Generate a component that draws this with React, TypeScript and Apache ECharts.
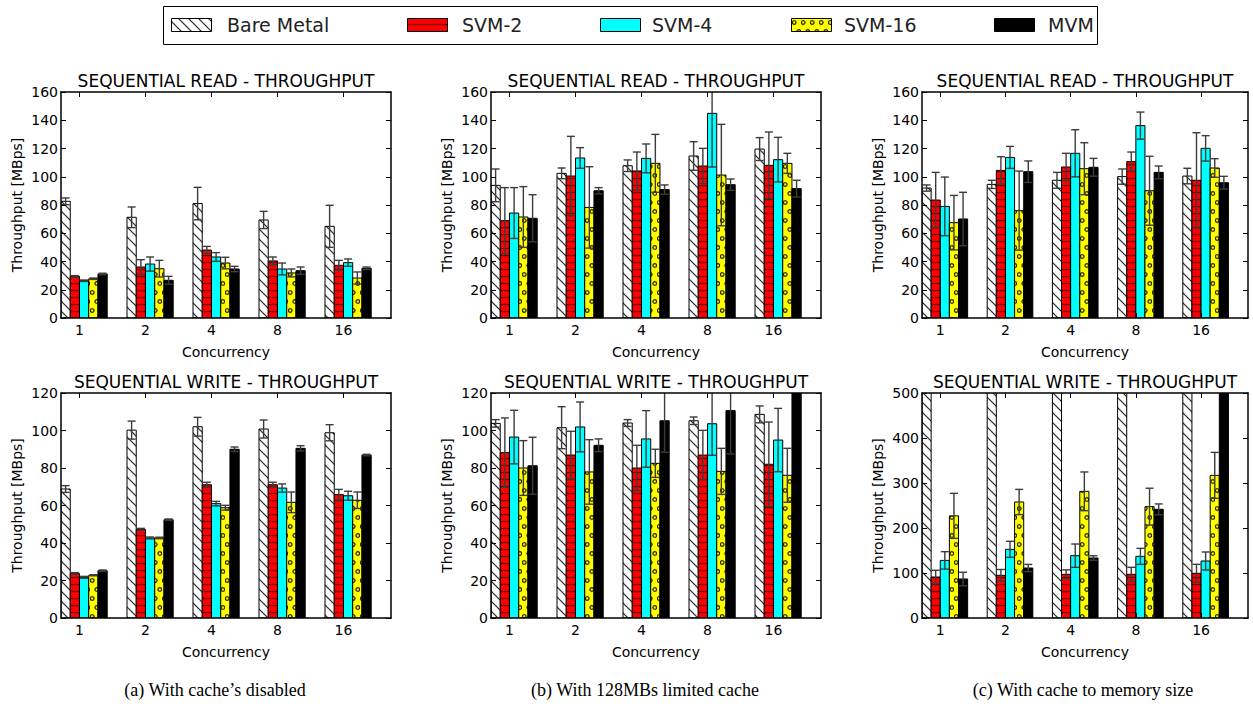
import React, { useEffect, useRef } from 'react';
import * as echarts from 'echarts';

const CATEGORIES = ['1', '2', '4', '8', '16'];
const SERIES_NAMES = ['Bare Metal', 'SVM-2', 'SVM-4', 'SVM-16', 'MVM'];

// rows: Bare Metal, SVM-2, SVM-4, SVM-16, MVM ; columns: concurrency 1,2,4,8,16
const READ_A_MEAN = [
  [82.6, 71.3, 81.0, 69.4, 64.9],
  [29.5, 36.1, 48.1, 40.4, 37.3],
  [26.4, 38.2, 43.2, 34.7, 39.2],
  [27.8, 34.9, 38.9, 31.9, 28.3],
  [31.2, 26.7, 34.7, 33.5, 35.2],
];
const READ_A_ERR = [
  [2.4, 7.3, 11.5, 6.1, 14.9],
  [0.5, 5.2, 2.6, 2.8, 3.5],
  [0.5, 5.0, 3.1, 4.2, 2.6],
  [0.5, 5.9, 4.1, 2.8, 4.3],
  [0.5, 2.8, 1.9, 2.6, 0.9],
];
const READ_B_MEAN = [
  [93.9, 102.4, 107.8, 114.7, 119.6],
  [68.9, 100.5, 104.1, 107.6, 108.1],
  [74.3, 113.3, 113.0, 144.9, 112.1],
  [71.5, 78.3, 109.5, 101.2, 109.5],
  [70.6, 90.1, 90.9, 94.4, 91.6],
];
const READ_B_ERR = [
  [11.6, 3.8, 4.1, 10.1, 8.1],
  [23.4, 28.1, 13.4, 12.5, 23.6],
  [18.0, 7.3, 10.2, 38.0, 15.8],
  [21.5, 28.8, 20.5, 35.9, 7.1],
  [16.7, 2.2, 3.3, 4.0, 5.9],
];
const READ_C_MEAN = [
  [92.0, 94.6, 97.5, 100.1, 100.5],
  [83.5, 104.5, 106.9, 110.7, 97.5],
  [79.0, 113.7, 116.6, 136.2, 120.1],
  [67.5, 76.0, 105.7, 90.1, 106.2],
  [70.1, 103.6, 106.7, 103.1, 95.8],
];
const READ_C_ERR = [
  [2.2, 2.9, 5.6, 5.4, 5.5],
  [19.6, 9.7, 9.7, 6.8, 33.7],
  [20.8, 7.8, 16.7, 9.6, 9.0],
  [19.3, 28.0, 18.4, 24.4, 6.6],
  [18.9, 7.6, 6.3, 4.5, 4.5],
];
const WRITE_A_MEAN = [
  [68.8, 100.2, 102.0, 100.8, 98.8],
  [23.8, 47.3, 71.1, 71.1, 65.8],
  [21.7, 42.7, 61.0, 69.3, 65.2],
  [22.8, 42.7, 58.8, 61.7, 62.8],
  [25.2, 52.4, 90.0, 90.5, 86.9],
];
const WRITE_A_ERR = [
  [1.8, 4.8, 5.0, 4.8, 4.3],
  [0.4, 0.5, 1.3, 1.3, 2.8],
  [0.5, 0.5, 1.2, 2.2, 2.4],
  [0.3, 0.4, 1.3, 5.5, 4.4],
  [0.4, 0.4, 1.2, 1.4, 0.4],
];
const WRITE_B_MEAN = [
  [103.8, 101.5, 104.0, 105.2, 108.6],
  [88.2, 86.9, 80.0, 86.9, 82.0],
  [96.5, 101.9, 95.5, 103.6, 94.9],
  [80.0, 77.9, 82.5, 78.2, 76.1],
  [81.2, 92.1, 105.2, 110.6, 130.0],
];
const WRITE_B_ERR = [
  [2.0, 11.2, 1.8, 2.0, 4.5],
  [18.5, 12.7, 12.1, 13.2, 22.5],
  [14.3, 13.3, 15.1, 16.8, 16.9],
  [14.6, 17.2, 7.5, 12.3, 14.4],
  [15.2, 3.4, 16.8, 23.1, 8.0],
];
const WRITE_C_MEAN = [
  [1400, 1500, 1450, 1500, 1550],
  [91.1, 94.8, 97.0, 97.0, 99.3],
  [128.0, 152.6, 138.5, 137.0, 126.7],
  [227.0, 257.8, 281.5, 247.4, 317.0],
  [86.7, 111.1, 133.3, 241.5, 600.0],
];
const WRITE_C_ERR = [
  [50, 50, 50, 50, 50],
  [15.0, 13.0, 10.0, 15.6, 20.0],
  [19.4, 17.8, 25.9, 17.8, 20.0],
  [50.0, 28.0, 43.0, 41.0, 51.0],
  [15.0, 8.0, 5.0, 12.0, 30.0],
];

const READ_TITLE = 'SEQUENTIAL READ - THROUGHPUT';
const WRITE_TITLE = 'SEQUENTIAL WRITE - THROUGHPUT';
const CAPTIONS = ['(a) With cache’s disabled', '(b) With 128MBs limited cache', '(c) With cache to memory size'];

const BAR_W = 0.14;
const FONT = 'DejaVu Sans';

const PANELS = [
  { title: READ_TITLE, mean: READ_A_MEAN, err: READ_A_ERR, yMax: 160, yStep: 20, left: 61, top: 92, width: 330, height: 226 },
  { title: READ_TITLE, mean: READ_B_MEAN, err: READ_B_ERR, yMax: 160, yStep: 20, left: 491, top: 92, width: 330, height: 226 },
  { title: READ_TITLE, mean: READ_C_MEAN, err: READ_C_ERR, yMax: 160, yStep: 20, left: 922, top: 92, width: 326, height: 226 },
  { title: WRITE_TITLE, mean: WRITE_A_MEAN, err: WRITE_A_ERR, yMax: 120, yStep: 20, left: 61, top: 393, width: 330, height: 225 },
  { title: WRITE_TITLE, mean: WRITE_B_MEAN, err: WRITE_B_ERR, yMax: 120, yStep: 20, left: 491, top: 393, width: 330, height: 225 },
  { title: WRITE_TITLE, mean: WRITE_C_MEAN, err: WRITE_C_ERR, yMax: 500, yStep: 100, left: 922, top: 393, width: 326, height: 225 },
];

function tile(w: number, h: number, draw: (ctx: CanvasRenderingContext2D) => void) {
  const s = 3;
  const c = document.createElement('canvas');
  c.width = w * s;
  c.height = h * s;
  const ctx = c.getContext('2d') as CanvasRenderingContext2D;
  ctx.scale(s, s);
  draw(ctx);
  return { image: c.toDataURL(), repeat: 'repeat', imageWidth: w, imageHeight: h };
}

function buildPatterns(): any[] {
  const hatch = tile(10, 10, (ctx) => {
    ctx.fillStyle = '#ffffff';
    ctx.fillRect(0, 0, 10, 10);
    ctx.strokeStyle = '#000';
    ctx.lineWidth = 1;
    ctx.beginPath();
    ctx.moveTo(-1, -1); ctx.lineTo(11, 11);
    ctx.moveTo(9, -1); ctx.lineTo(11, 1);
    ctx.moveTo(-1, 9); ctx.lineTo(1, 11);
    ctx.stroke();
  });
  const red = tile(8, 7, (ctx) => {
    ctx.fillStyle = '#ff0000';
    ctx.fillRect(0, 0, 8, 7);
    ctx.fillStyle = 'rgba(60,0,0,0.95)';
    ctx.fillRect(0, 3, 8, 1.1);
  });
  const dots = tile(9, 18, (ctx) => {
    ctx.fillStyle = '#ffff00';
    ctx.fillRect(0, 0, 9, 18);
    ctx.strokeStyle = '#000';
    ctx.lineWidth = 1.1;
    const pts = [[2.25, 4.5], [6.75, 13.5]];
    pts.forEach(([x, y]) => {
      ctx.beginPath();
      ctx.arc(x, y, 1.8, 0, Math.PI * 2);
      ctx.stroke();
    });
  });
  return [hatch, red, '#00ffff', dots, '#000000'];
}

function buildOption(fills: any[]) {
  const ticks = CATEGORIES.map((_, i) => i + 2 * BAR_W);
  const labelStyle = { color: '#000', fontFamily: FONT, fontSize: 14 };
  const lineStyle = { color: '#000', width: 1.5 };
  const grid: any[] = [];
  const xAxis: any[] = [];
  const yAxis: any[] = [];
  const series: any[] = [];
  const graphic: any[] = [];

  PANELS.forEach((p, pi) => {
    grid.push({ left: p.left, top: p.top, width: p.width, height: p.height, containLabel: false, outerBoundsMode: 'none' });
    const xBase = {
      type: 'value', gridIndex: pi, min: 0, max: CATEGORIES.length, z: 10,
      splitLine: { show: false },
      axisLine: { show: true, onZero: false, lineStyle },
      axisTick: { show: true, inside: true, length: 5, customValues: ticks, lineStyle: { color: '#000', width: 1 } },
    };
    xAxis.push({
      ...xBase, position: 'bottom',
      axisLabel: { ...labelStyle, margin: 5, customValues: ticks, formatter: (v: number) => CATEGORIES[Math.round(v - 2 * BAR_W)] ?? '' },
      name: 'Concurrency', nameLocation: 'middle', nameGap: 27, nameTextStyle: { ...labelStyle },
    });
    xAxis.push({ ...xBase, position: 'top', axisLabel: { show: false } });
    const yBase = {
      type: 'value', gridIndex: pi, min: 0, max: p.yMax, interval: p.yStep, z: 10,
      splitLine: { show: false },
      axisLine: { show: true, onZero: false, lineStyle },
      axisTick: { show: true, inside: true, length: 5, lineStyle: { color: '#000', width: 1 } },
    };
    yAxis.push({
      ...yBase, position: 'left',
      axisLabel: { ...labelStyle, margin: 3 },
      name: 'Throughput [MBps]', nameLocation: 'middle', nameGap: 37, nameRotate: 90, nameTextStyle: { ...labelStyle },
    });
    yAxis.push({ ...yBase, position: 'right', axisLabel: { show: false } });

    SERIES_NAMES.forEach((name, k) => {
      const data = CATEGORIES.map((_, i) => [i, p.mean[k][i], p.err[k][i]]);
      series.push({
        type: 'custom', name, xAxisIndex: pi * 2, yAxisIndex: pi * 2, clip: true, z: 2 + k * 0.01,
        encode: { x: 0, y: 1 },
        data,
        renderItem: (params: any, api: any) => {
          const g = api.value(0);
          const v = api.value(1);
          const e = api.value(2);
          const x0 = g + k * BAR_W;
          const x1 = x0 + BAR_W;
          const pTop = api.coord([x0, v]);
          const pBot = api.coord([x1, 0]);
          const cx = (pTop[0] + pBot[0]) / 2;
          const yHi = api.coord([x0, v + e])[1];
          const yLo = api.coord([x0, Math.max(0, v - e)])[1];
          const ec = '#3c3c3c';
          return {
            type: 'group',
            children: [
              {
                type: 'rect',
                shape: { x: pTop[0], y: pTop[1], width: pBot[0] - pTop[0], height: pBot[1] - pTop[1] },
                style: { fill: fills[k], stroke: '#000', lineWidth: 1 },
              },
              { type: 'line', shape: { x1: cx, y1: yHi, x2: cx, y2: yLo }, style: { stroke: ec, lineWidth: 1.4 } },
              { type: 'line', shape: { x1: cx - 4, y1: yHi, x2: cx + 4, y2: yHi }, style: { stroke: ec, lineWidth: 1.4 } },
              { type: 'line', shape: { x1: cx - 4, y1: yLo, x2: cx + 4, y2: yLo }, style: { stroke: ec, lineWidth: 1.4 } },
            ],
          };
        },
      });
    });

    graphic.push({
      type: 'text', x: p.left + p.width / 2, y: p.top - 11.5,
      style: { text: p.title, fill: '#000', fontSize: 17, fontFamily: FONT, align: 'center', textAlign: 'center', verticalAlign: 'middle', textVerticalAlign: 'middle' },
    });
  });

  // captions
  const capX = [215, 645, 1083];
  CAPTIONS.forEach((c, i) => {
    graphic.push({
      type: 'text', x: capX[i], y: 690,
      style: { text: c, fill: '#000', fontSize: 18, fontFamily: 'Liberation Serif', align: 'center', textAlign: 'center', verticalAlign: 'middle', textVerticalAlign: 'middle' },
    });
  });

  // legend
  graphic.push({ type: 'rect', shape: { x: 163.5, y: 6.5, width: 934, height: 38 }, style: { fill: '#fff', stroke: '#000', lineWidth: 1 }, z: 1 });
  const patchX = [171, 407, 600, 791, 994];
  const textX = [227, 462, 652, 844, 1048];
  SERIES_NAMES.forEach((n, k) => {
    graphic.push({ type: 'rect', shape: { x: patchX[k] + 0.5, y: 18.5, width: 40, height: 13 }, style: { fill: fills[k], stroke: '#000', lineWidth: 1 }, z: 2 });
    graphic.push({
      type: 'text', x: textX[k], y: 25, z: 2,
      style: { text: n, fill: '#222', fontSize: 19, fontFamily: FONT, align: 'left', textAlign: 'left', verticalAlign: 'middle', textVerticalAlign: 'middle' },
    });
  });

  return { animation: false, backgroundColor: '#fff', grid, xAxis, yAxis, series, graphic };
}

export default function App() {
  const ref = useRef<HTMLDivElement>(null);
  useEffect(() => {
    if (!ref.current) return;
    const fills = buildPatterns();
    const chart = echarts.init(ref.current, undefined, { renderer: 'svg' });
    chart.setOption(buildOption(fills) as any);
    return () => chart.dispose();
  }, []);
  return <div ref={ref} style={{ position: 'fixed', left: 0, top: 0, width: 1253, height: 713, background: '#fff' }} />;
}
